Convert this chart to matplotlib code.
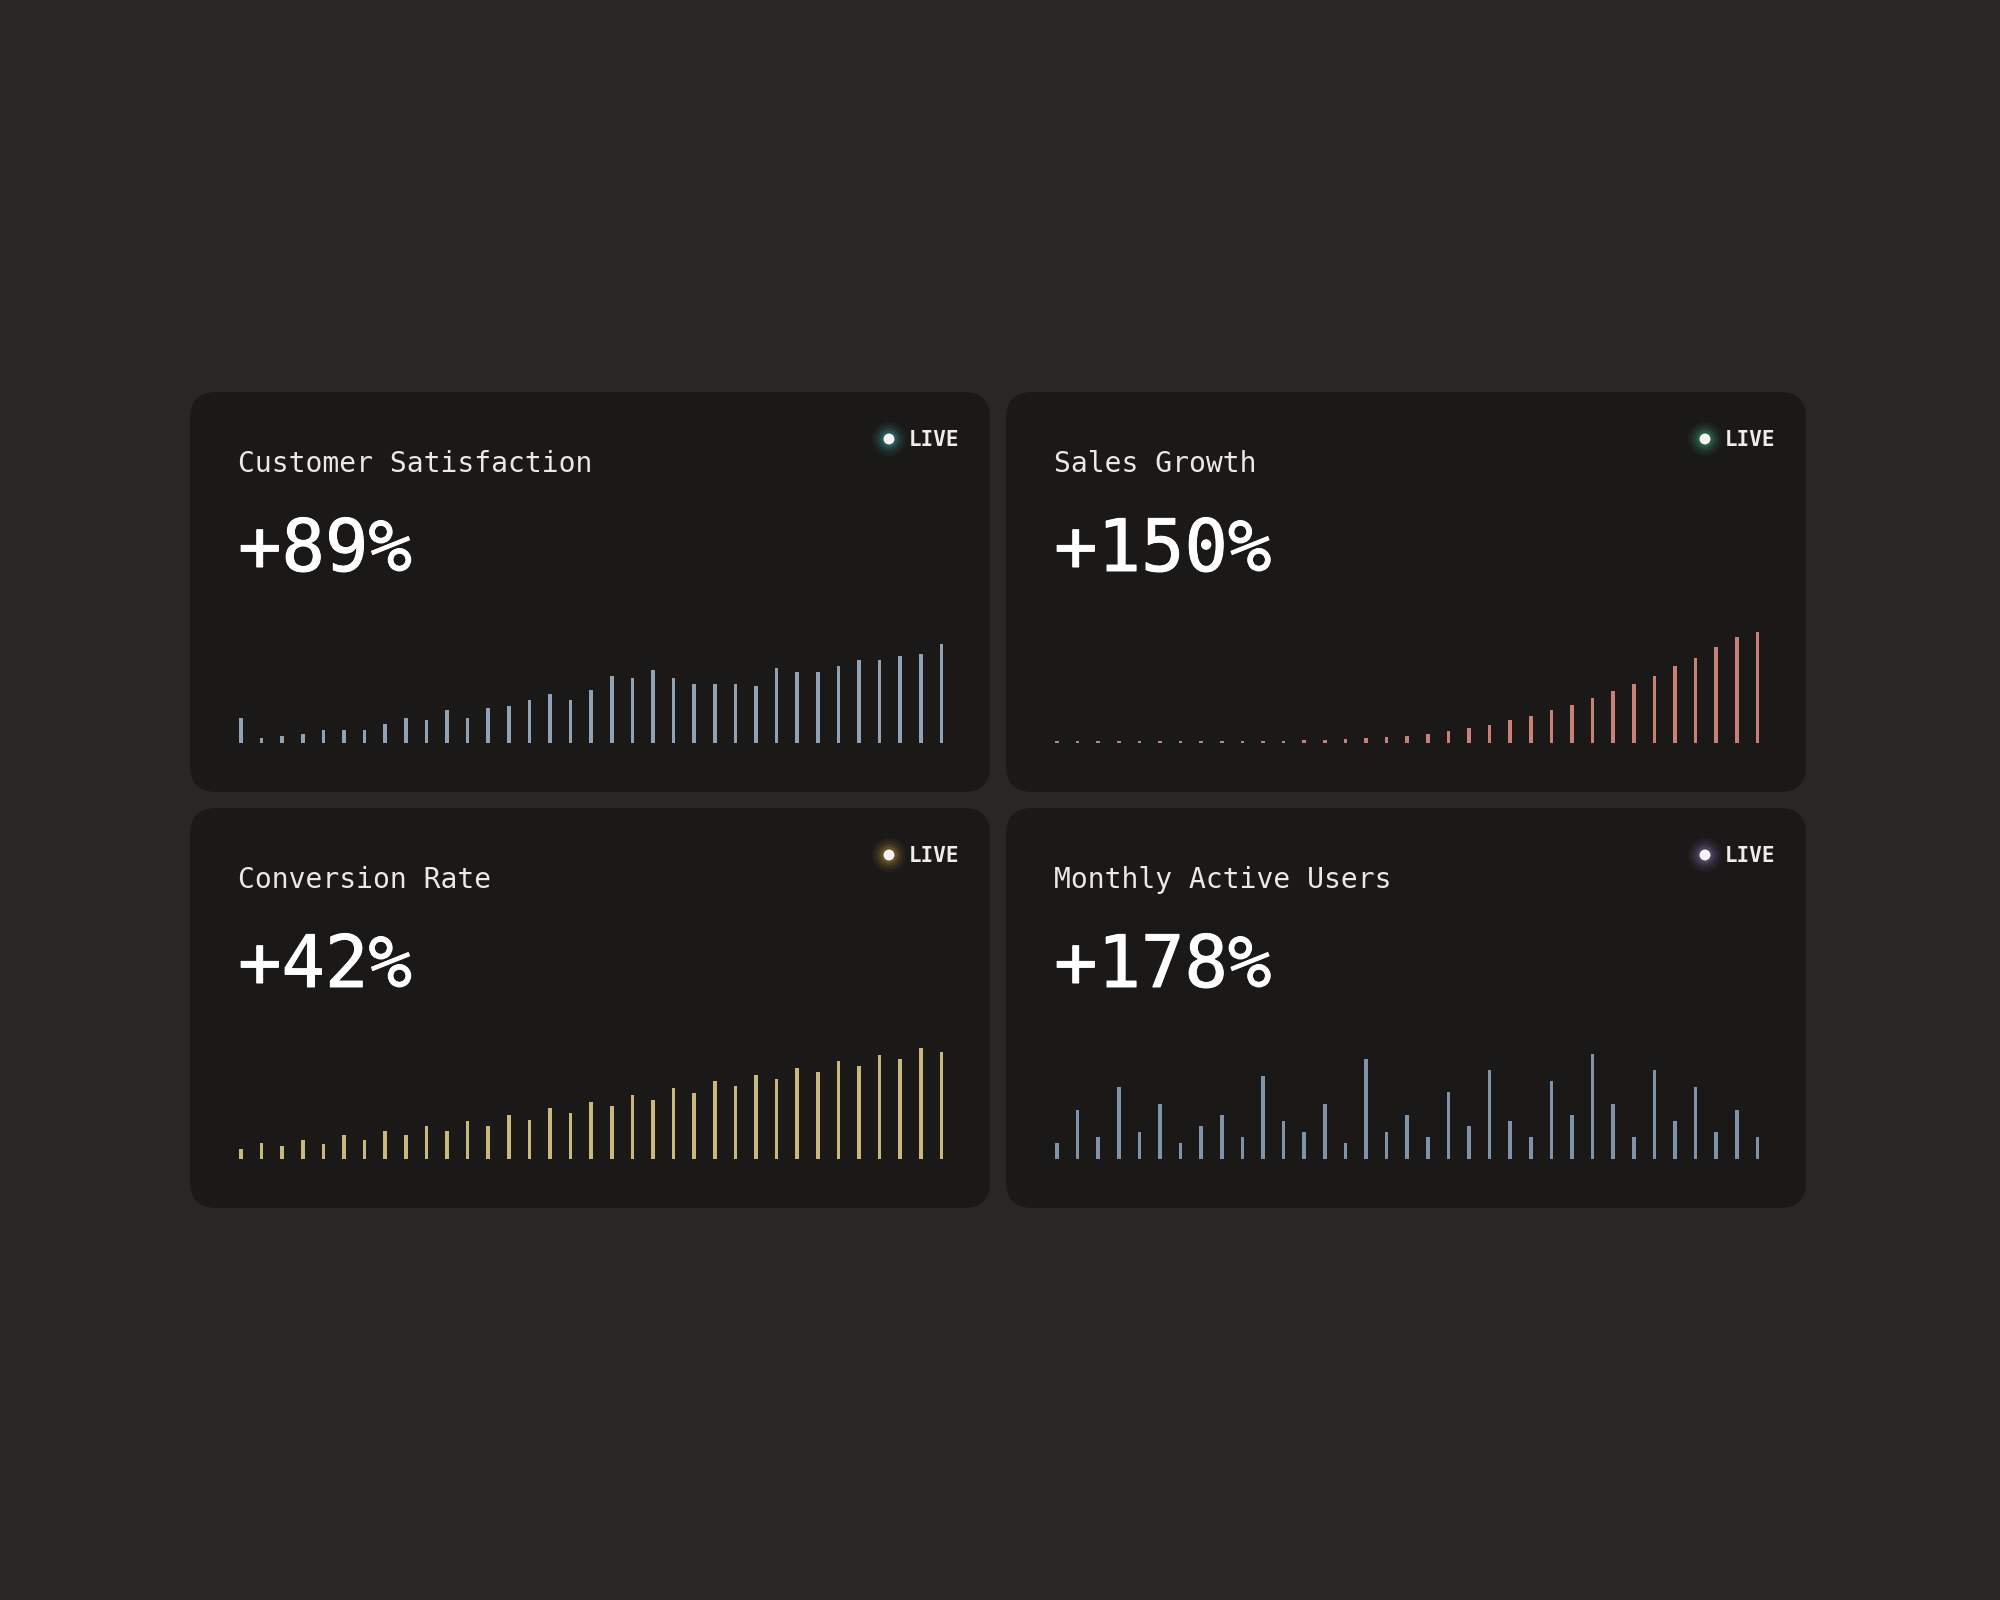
import numpy as np
import matplotlib.pyplot as plt
import matplotlib.patheffects as pe
from matplotlib.patches import FancyBboxPatch, Circle

W, H = 2000, 1600
BG = "#282723"
CARD = "#1a1918"

titles = ["Customer Satisfaction", "Sales Growth", "Conversion Rate", "Monthly Active Users"]
headlines = ["+89%", "+150%", "+42%", "+178%"]
bar_colors = ["#8fa3b5", "#c98176", "#c9b87b", "#7f94aa"]
glow_colors = ["#4fd1d9", "#4ade9a", "#f2c14e", "#a99bf0"]

# bar heights (px)
satisfaction = [25, 5, 7, 9, 13, 13, 13, 19, 25, 23, 33, 25, 35, 37, 43, 49, 43, 53,
                67, 65, 73, 65, 59, 59, 59, 57, 75, 71, 71, 77, 83, 83, 87, 89, 99]
sales = [2, 2, 2, 2, 2, 2, 2, 2, 2, 2, 2, 2, 3, 3, 4, 5, 6, 7, 9, 12, 15, 18,
         23, 27, 33, 38, 45, 52, 59, 67, 77, 85, 96, 106, 111]
conversion = [10, 16, 13, 19, 15, 24, 19, 28, 24, 33, 28, 38, 33, 44, 39, 51, 46, 57,
              53, 64, 59, 71, 66, 78, 73, 84, 80, 91, 87, 98, 93, 104, 100, 111, 107]
mau = [16, 49, 22, 72, 27, 55, 16, 33, 44, 22, 83, 38, 27, 55, 16, 100, 27, 44,
       22, 67, 33, 89, 38, 22, 78, 44, 105, 55, 22, 89, 38, 72, 27, 49, 22]
series = [satisfaction, sales, conversion, mau]

# card layout (pixels, top-left origin)
card_w, card_h = 800, 400
origins = [(190, 392), (1006, 392), (190, 808), (1006, 808)]
step = 20.6
bar_px = 3.6

plt.rcParams['font.family'] = ['DejaVu Sans Mono']

fig = plt.figure(figsize=(W / 100, H / 100), dpi=100, facecolor=BG)
bg = fig.add_axes([0, 0, 1, 1])
bg.set_xlim(0, W)
bg.set_ylim(H, 0)
bg.axis("off")
bg.set_facecolor(BG)

for i, (x0, y0) in enumerate(origins):
    card = FancyBboxPatch((x0, y0), card_w, card_h,
                          boxstyle="round,pad=0,rounding_size=26",
                          fc=CARD, ec="none")
    bg.add_patch(card)

    bg.text(x0 + 48, y0 + 80, titles[i], color="#ebe9e6", fontsize=20.2,
            va="baseline", ha="left")
    bg.text(x0 + 48, y0 + 179, headlines[i], color="#ffffff", fontsize=52,
            va="baseline", ha="left",
            path_effects=[pe.withStroke(linewidth=0.7, foreground="#ffffff")])

    # live indicator with soft glow
    cx, cy = x0 + 699, y0 + 47
    for r, a in [(17, 0.05), (14, 0.07), (11, 0.1), (8.5, 0.15)]:
        bg.add_patch(Circle((cx, cy), r, fc=glow_colors[i], ec="none", alpha=a))
    bg.add_patch(Circle((cx, cy), 5.5, fc="#f6f5f1", ec="none"))
    bg.text(x0 + 769, y0 + 54, "LIVE", color="#efede9", fontsize=15,
            fontweight="bold", va="baseline", ha="right")

    # sparkline bars
    base = y0 + 351
    left = x0 + 51 - step / 2
    ax = fig.add_axes([left / W, (H - base) / H, (step * 35) / W, 130 / H])
    ax.set_xlim(-0.5, 34.5)
    ax.set_ylim(0, 130)
    ax.axis("off")
    ax.patch.set_alpha(0)
    idx = np.arange(len(series[i]))
    ax.bar(idx, series[i], width=bar_px / step, color=bar_colors[i], linewidth=0)

fig.savefig("out.png", dpi=100, facecolor=BG)
